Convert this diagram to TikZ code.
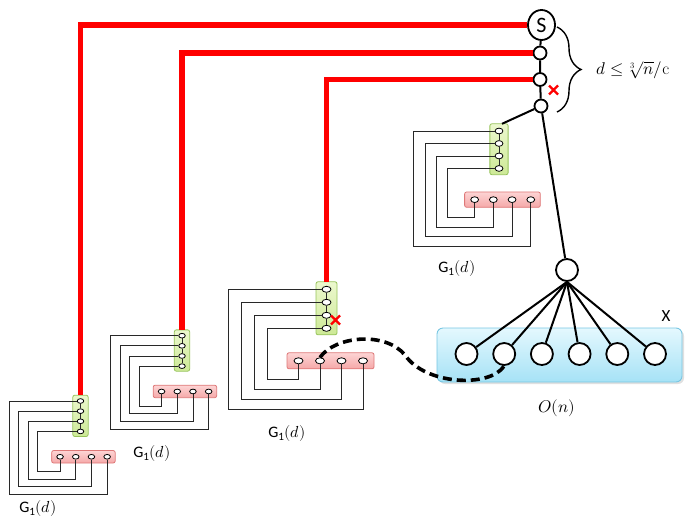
\documentclass[tikz,border=0pt]{standalone}
\usepackage{fontspec}
\usepackage{unicode-math}
\setmathfont{Latin Modern Math}
\setsansfont{Carlito}
\usetikzlibrary{decorations.pathreplacing,calc,shapes.geometric}
\definecolor{gtop}{RGB}{236,248,206}
\definecolor{gbot}{RGB}{205,233,150}
\definecolor{gedge}{RGB}{150,195,90}
\definecolor{ptop}{RGB}{253,212,212}
\definecolor{pbot}{RGB}{245,168,168}
\definecolor{pedge}{RGB}{222,120,120}
\definecolor{btop}{RGB}{228,248,254}
\definecolor{bbot}{RGB}{166,226,246}
\definecolor{bedge}{RGB}{120,198,226}
\definecolor{wire}{RGB}{40,40,40}
\tikzset{
  greenbox/.style={top color=gtop,bottom color=gbot,draw=gedge,line width=0.8pt,rounded corners=2pt},
  pinkbox/.style={top color=ptop,bottom color=pbot,draw=pedge,line width=0.8pt,rounded corners=2pt},
  bluebox/.style={top color=btop,bottom color=bbot,draw=bedge,line width=0.9pt,rounded corners=6pt},
  smallnode/.style={ellipse,draw=black,fill=white,line width=0.8pt,inner sep=0pt},
  thinline/.style={draw=wire,line width=0.8pt},
  redline/.style={draw=red,line width=5.3pt},
  chainnode/.style={circle,draw=black,fill=white,line width=1.8pt,inner sep=0pt,minimum size=13pt},
  bignode/.style={circle,draw=black,fill=white,line width=1.8pt,inner sep=0pt,minimum size=22pt},
  blackline/.style={draw=black,line width=2pt},
  dashcurve/.style={draw=black,line width=3.6pt,dash pattern=on 9pt off 5pt},
  redcross/.style={draw=red,line width=2.4pt},
  glabel/.style={font=\fontsize{16}{18}\selectfont,inner sep=0pt},
}
\newcommand\gadget[5]{%
  \begin{scope}[shift={(#2,#3)},xscale=#4,yscale=#5]
    \shade[greenbox] (-10.5,-7.5) rectangle (10.5,45.5);
    \shade[pinkbox] (-39.5,63.5) rectangle (47.5,79.5);
    \coordinate (#1-top) at (0,-7.5);
    \foreach \i/\yy in {1/0,2/13,3/26,4/39}
      \node[smallnode,minimum width={9pt*#4},minimum height={6pt*#5}] (#1-g\i) at (0,\yy) {};
    \foreach \i/\xx in {1/-28,2/-6.5,3/15,4/36.5}
      \node[smallnode,minimum width={9pt*#4},minimum height={6pt*#5}] (#1-p\i) at (\xx,71.5) {};
    \coordinate (#1-c1) at (-98,120);
    \coordinate (#1-c2) at (-85,110);
    \coordinate (#1-c3) at (-72,100);
    \coordinate (#1-c4) at (-59,90);
    \draw[thinline] (#1-g1.south) -- (#1-g2.north) (#1-g2.south) -- (#1-g3.north) (#1-g3.south) -- (#1-g4.north);
    \draw[thinline] (#1-g1.west) -| (#1-c1) -| (#1-p4.south);
    \draw[thinline] (#1-g2.west) -| (#1-c2) -| (#1-p3.south);
    \draw[thinline] (#1-g3.west) -| (#1-c3) -| (#1-p2.south);
    \draw[thinline] (#1-g4.west) -| (#1-c4) -| (#1-p1.south);
  \end{scope}}
\begin{document}
\begin{tikzpicture}[x=1pt,y=-1pt]
\useasboundingbox (0,0) rectangle (692,519);
% blue box
\fill[black,opacity=0.12,rounded corners=6pt] (439,330) rectangle (684,384);
\shade[bluebox] (437,328) rectangle (682,382);
% gadgets
\gadget{A}{80.5}{401}{0.73}{0.78}
\gadget{B}{182}{335.7}{0.73}{0.78}
\gadget{C}{326.5}{289.3}{1}{1}
\gadget{D}{499}{131}{0.87}{0.96}
% labels
\node[glabel] (lA) at (38,508) {\textsf{G}$_{\textsf{1}}(d)$};
\node[glabel] (lB) at (152,453) {\textsf{G}$_{\textsf{1}}(d)$};
\node[glabel] (lC) at (287,433) {\textsf{G}$_{\textsf{1}}(d)$};
\node[glabel] (lD) at (457,268) {\textsf{G}$_{\textsf{1}}(d)$};
% chain
\node[ellipse,draw=black,fill=white,line width=1.8pt,inner sep=0pt,minimum width=27pt,minimum height=30pt,font=\fontsize{22}{24}\selectfont\sffamily] (S) at (541.5,25) {S};
\node[chainnode] (n1) at (540,53) {};
\node[chainnode] (n2) at (540,79.5) {};
\node[chainnode] (n3) at (541,106) {};
\draw[blackline] (S) -- (n1) -- (n2) -- (n3);
% red lines
\draw[redline] (S.west) -| (A-top);
\draw[redline] (n1.west) -| (B-top);
\draw[redline] (n2.west) -| (C-top);
% brace
\draw[line width=1.4pt,decorate,decoration={brace,amplitude=24pt}] (557,27) -- (557,112);
\node[anchor=west,inner sep=0pt,font=\fontsize{17}{20}\selectfont] (bound) at (596,70) {$d \leq \sqrt[3]{n}/\mathrm{c}$};
% big node and X set
\node[bignode] (Bg) at (567,270) {};
\draw[blackline] (n3) -- ([xshift=3pt]D-top);
\draw[blackline] (n3) -- (Bg);
\foreach \i/\xx in {1/466.5,2/504.2,3/541.9,4/579.6,5/617.3,6/655}
  \node[bignode] (X\i) at (\xx,354) {};
\foreach \i in {1,...,6}
  \draw[blackline] (Bg.south) -- (X\i);
\node[inner sep=0pt,font=\fontsize{17}{19}\selectfont\sffamily] (Xlab) at (666,316) {X};
\node[inner sep=0pt,font=\fontsize{17}{20}\selectfont] (On) at (557,408) {$O(n)$};
% dashed curve
\coordinate (dmid) at (405,355);
\draw[dashcurve] (C-p2.north) .. controls (335,336) and (385,331) .. (dmid) .. controls (425,385) and (490,388) .. (X2.south);
% red crosses
\coordinate (xm1) at (553.5,90);
\coordinate (xm2) at (335.5,320);
\draw[redcross] ([shift={(-4.5,-4.5)}]xm1) -- ([shift={(4.5,4.5)}]xm1) ([shift={(-4.5,4.5)}]xm1) -- ([shift={(4.5,-4.5)}]xm1);
\draw[redcross] ([shift={(-4.5,-4.5)}]xm2) -- ([shift={(4.5,4.5)}]xm2) ([shift={(-4.5,4.5)}]xm2) -- ([shift={(4.5,-4.5)}]xm2);
\end{tikzpicture}
\end{document}
